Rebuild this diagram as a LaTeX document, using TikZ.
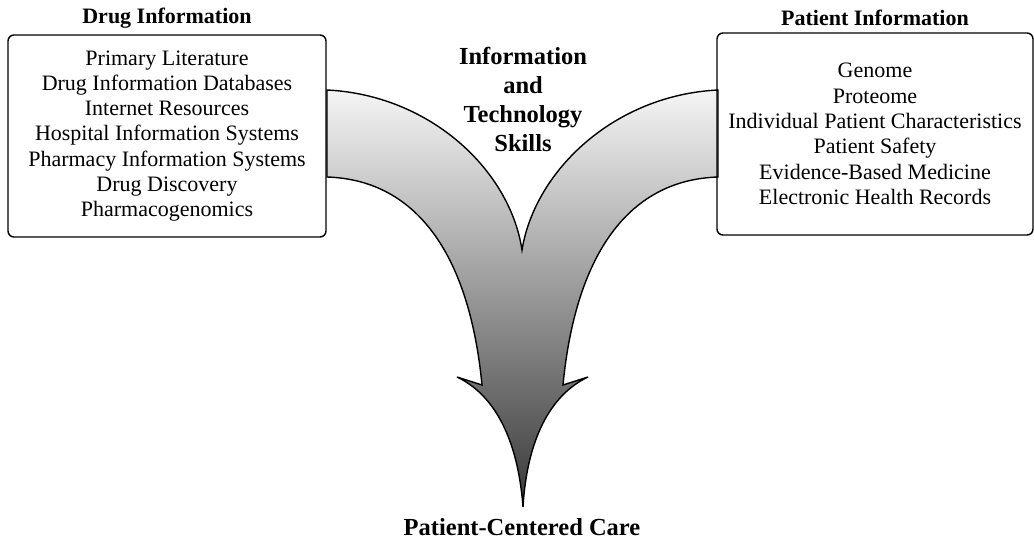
\documentclass[tikz,border=0pt]{standalone}
\usepackage{fontspec}
\setmainfont{Liberation Serif}
\usetikzlibrary{positioning}
\tikzset{
  infobox/.style={draw, line width=1.4pt, rounded corners=6pt, align=center,
    inner sep=0pt, minimum width=318pt, minimum height=202pt,
    font=\fontsize{22}{25.3}\selectfont},
  boxtitle/.style={inner sep=0pt, font=\fontsize{22}{26}\selectfont\bfseries},
  bigtitle/.style={inner sep=0pt, align=center, font=\fontsize{24.5}{29}\selectfont\bfseries}
}

\begin{document}
\begin{tikzpicture}[x=1pt,y=-1pt]
                \useasboundingbox (0,0) rectangle (1034,543);

                % Shaded arrow, two bands joining into one tip
                \shade[top color=black!4, middle color=black!32, bottom color=black!78,
                       draw, line width=1.4pt, line join=miter]
                    (327,90) .. controls (430,95) and (510,170) .. (522,250)
                    .. controls (535,170) and (615,95) .. (718,90)
                    -- (718,177)
                    .. controls (625,180) and (575,260) .. (563,385)
                    -- (588,377)
                    .. controls (550,395) and (527,440) .. (523,507)
                    .. controls (518,440) and (495,395) .. (457,377)
                    -- (482,385)
                    .. controls (470,260) and (420,180) .. (327,177) -- cycle;

                % Left box
                \node[infobox] (druginfo) at (167,136)
                    {Primary Literature\\Drug Information Databases\\Internet Resources\\
                     Hospital Information Systems\\Pharmacy Information Systems\\
                     Drug Discovery\\Pharmacogenomics};
                \node[boxtitle, above=6pt of druginfo] (druglabel) {Drug Information};

                % Right box
                \node[infobox, minimum width=316pt] (patientinfo) at (875,134)
                    {Genome\\Proteome\\Individual Patient Characteristics\\
                     Patient Safety\\Evidence-Based Medicine\\Electronic Health Records};
                \node[boxtitle, above=6pt of patientinfo] (patientlabel) {Patient Information};

                % Middle and bottom labels
                \node[bigtitle] (skills) at (523,99) {Information\\and\\Technology\\Skills};
                \node[bigtitle, anchor=base] (care) at (522,535) {Patient-Centered Care};
\end{tikzpicture}
\end{document}
